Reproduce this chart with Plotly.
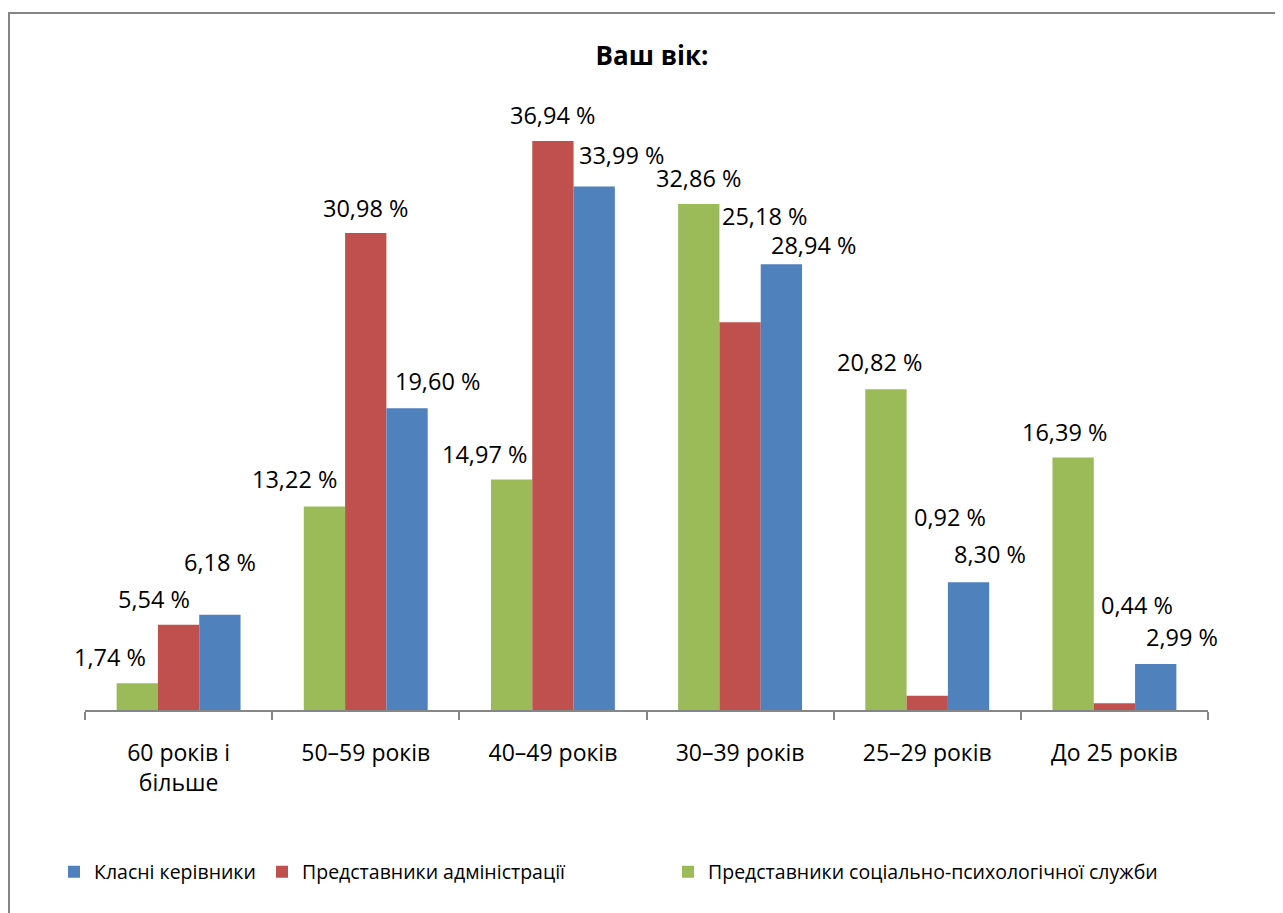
import plotly.graph_objects as go

# ---- data ----
categories = ["60 років і<br>більше", "50–59 років", "40–49 років",
              "30–39 років", "25–29 років", "До 25 років"]
psych_service = [1.74, 13.22, 14.97, 32.86, 20.82, 16.39]
administration = [5.54, 30.98, 36.94, 25.18, 0.92, 0.44]
class_teachers = [6.18, 19.60, 33.99, 28.94, 8.30, 2.99]

series_names = ["Представники соціально-психологічної служби",
                "Представники адміністрації",
                "Класні керівники"]

# label nudges (px) relative to the top of each bar, as dragged in the original
label_dx = [[-27, -30, -27, 0, -6, -9],
            [-25, 0, 0, 24, 23, 23],
            [0, 30, 27, 32, 21, 26]]
label_dy = [[26, 27, 25, 26, 27, 26],
            [26, 25, 26, 106, 179, 98],
            [53, 27, 32, 19, 28, 27]]

colors = ["#9BBB59", "#C0504D", "#4F81BD"]
FONT = "Open Sans"

# the page body has an 8px margin; page coordinates below are shifted by it
OFF = 8
W, H = 1283 - OFF, 913 - OFF
ML, MT = 85 - OFF, 94 - OFF
MR = W - (1208 - OFF)
MB = H - (710 - OFF)
BARGAP = 0.338

fig = go.Figure()
all_values = [psych_service, administration, class_teachers]
legend_ids = ["legend3", "legend2", "legend"]
for name, vals, col, lg in zip(series_names, all_values, colors, legend_ids):
    fig.add_trace(go.Bar(
        x=categories, y=vals, name=name, marker_color=col,
        marker_line_width=0, legend=lg, showlegend=True,
    ))

# data labels
plot_w = W - ML - MR
plot_h = H - MT - MB
bar_w = plot_w / len(categories) * (1 - BARGAP) / 3
for s, vals in enumerate(all_values):
    offset = (s - 1) * bar_w
    for i, v in enumerate(vals):
        fig.add_annotation(
            x=categories[i], y=v, xref="x", yref="y",
            text=f"{v:.2f}".replace(".", ",") + " %",
            showarrow=False, xanchor="center", yanchor="middle",
            xshift=offset + label_dx[s][i], yshift=label_dy[s][i],
            font=dict(family=FONT, size=23.5, color="#000000"),
        )


def px_x(px):
    return (px - OFF - ML) / plot_w


def px_y(py):
    return (H - MB - (py - OFF)) / plot_h


legend_common = dict(orientation="h", yanchor="middle", xanchor="left",
                     font=dict(family=FONT, size=19.5, color="#000000"),
                     bgcolor="rgba(0,0,0,0)", borderwidth=0)

fig.update_layout(
    width=W, height=H,
    margin=dict(l=ML, r=MR, t=MT, b=MB),
    paper_bgcolor="white", plot_bgcolor="white",
    font=dict(family=FONT, size=21, color="#000000"),
    showlegend=True,
    title=dict(text="<b>Ваш вік:</b>", x=(652 - OFF) / W, xref="container",
               y=1 - (56 - OFF) / H, yref="container", xanchor="center",
               yanchor="middle", font=dict(family=FONT, size=26, color="#000000")),
    barmode="group", bargap=BARGAP, bargroupgap=0,
    xaxis=dict(range=[-0.5, len(categories) - 0.5],
               showline=True, linecolor="#868686", linewidth=1.5,
               ticks="outside", tickson="boundaries", ticklen=8,
               tickcolor="#868686", tickwidth=1.5, showgrid=False,
               ticklabelstandoff=22,
               tickfont=dict(family=FONT, size=23, color="#000000")),
    yaxis=dict(visible=False, range=[0, 40]),
    legend=dict(x=px_x(54), y=px_y(872), **legend_common),
    legend2=dict(x=px_x(262), y=px_y(872), **legend_common),
    legend3=dict(x=px_x(668), y=px_y(872), **legend_common),
    shapes=[dict(type="rect", xref="paper", yref="paper",
                 x0=px_x(9), x1=px_x(1293), y0=px_y(923), y1=px_y(13),
                 line=dict(color="#868686", width=2), fillcolor="rgba(0,0,0,0)",
                 layer="above")],
)

fig.write_html("out.html")
